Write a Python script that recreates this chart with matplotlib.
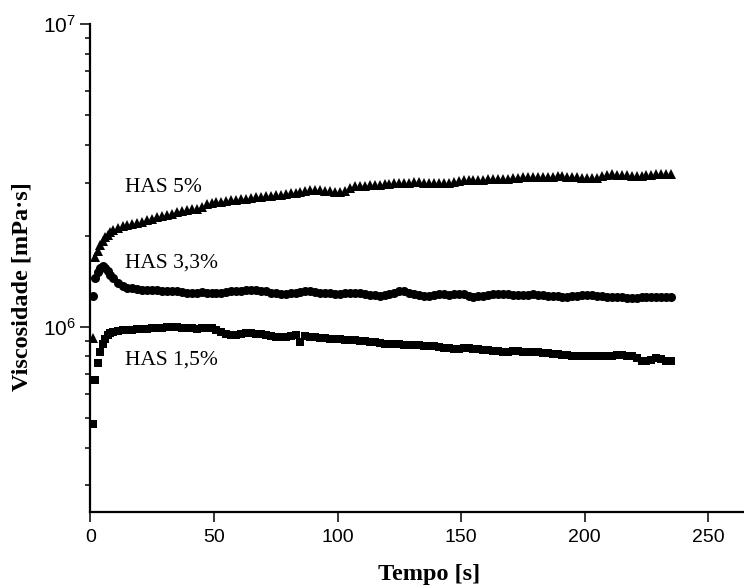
import numpy as np
import matplotlib
matplotlib.use("Agg")
import matplotlib.pyplot as plt
from matplotlib.ticker import LogLocator, FixedLocator, NullFormatter

plt.rcParams['font.family'] = 'sans-serif'
plt.rcParams['font.sans-serif'] = ['Liberation Sans', 'DejaVu Sans']
plt.rcParams['mathtext.fontset'] = 'custom'
plt.rcParams['mathtext.rm'] = 'Liberation Sans'
plt.rcParams['mathtext.it'] = 'Liberation Sans'

# sampling times [s]
tempo = [1, 2, 3, 4, 5, 6, 7, 8, 9] + list(range(11, 236, 2))

# viscosity in units of 1e6 mPa.s
has_5 = [0.92, 1.70, 1.78, 1.86, 1.93, 1.98, 2.02, 2.06, 2.09,
         2.12, 2.15, 2.17, 2.19, 2.21, 2.23, 2.25, 2.27, 2.30, 2.32,
         2.35, 2.37, 2.39, 2.41, 2.43, 2.45, 2.46, 2.49, 2.54, 2.56,
         2.58, 2.59, 2.60, 2.62, 2.63, 2.64, 2.65, 2.66, 2.68, 2.69,
         2.70, 2.71, 2.72, 2.73, 2.75, 2.77, 2.78, 2.80, 2.82, 2.84,
         2.84, 2.83, 2.82, 2.81, 2.80, 2.80, 2.81, 2.88, 2.92, 2.93,
         2.93, 2.94, 2.95, 2.95, 2.96, 2.97, 2.98, 2.99, 3.00, 3.00,
         3.01, 3.01, 3.00, 2.99, 2.98, 2.98, 2.98, 3.00, 3.02, 3.04,
         3.05, 3.05, 3.06, 3.06, 3.06, 3.07, 3.07, 3.08, 3.08, 3.09,
         3.10, 3.11, 3.12, 3.13, 3.13, 3.13, 3.14, 3.14, 3.14, 3.15,
         3.15, 3.14, 3.13, 3.12, 3.11, 3.10, 3.10, 3.11, 3.16, 3.18,
         3.19, 3.18, 3.17, 3.17, 3.16, 3.16, 3.16, 3.17, 3.18, 3.19,
         3.19, 3.20, 3.21]

has_33 = [1.27, 1.45, 1.52, 1.57, 1.59, 1.57, 1.53, 1.49, 1.45,
          1.40, 1.37, 1.35, 1.345, 1.34, 1.33, 1.325, 1.32, 1.32, 1.315,
          1.31, 1.31, 1.31, 1.305, 1.30, 1.30, 1.30, 1.305, 1.30, 1.30,
          1.30, 1.30, 1.305, 1.31, 1.31, 1.315, 1.32, 1.32, 1.32, 1.315,
          1.31, 1.30, 1.295, 1.29, 1.29, 1.295, 1.30, 1.305, 1.31, 1.31,
          1.305, 1.30, 1.30, 1.295, 1.29, 1.29, 1.295, 1.30, 1.30, 1.295,
          1.29, 1.28, 1.275, 1.27, 1.28, 1.29, 1.30, 1.31, 1.31, 1.30,
          1.29, 1.28, 1.27, 1.27, 1.28, 1.29, 1.29, 1.28, 1.285, 1.29,
          1.29, 1.27, 1.26, 1.265, 1.27, 1.28, 1.285, 1.29, 1.29, 1.285,
          1.28, 1.28, 1.275, 1.28, 1.285, 1.28, 1.275, 1.27, 1.27, 1.265,
          1.26, 1.26, 1.265, 1.27, 1.275, 1.28, 1.275, 1.27, 1.265, 1.26,
          1.26, 1.255, 1.255, 1.25, 1.245, 1.25, 1.255, 1.255, 1.26, 1.26,
          1.255, 1.255, 1.255]

has_15 = [0.48, 0.67, 0.76, 0.83, 0.88, 0.91, 0.94, 0.955, 0.965,
          0.970, 0.975, 0.978, 0.980, 0.982, 0.985, 0.988, 0.990, 0.992, 0.995,
          0.998, 1.000, 0.998, 0.995, 0.992, 0.990, 0.988, 0.992, 0.995, 0.990,
          0.980, 0.965, 0.950, 0.940, 0.942, 0.948, 0.955, 0.955, 0.950, 0.945,
          0.940, 0.935, 0.930, 0.925, 0.930, 0.935, 0.940, 0.890, 0.935, 0.930,
          0.925, 0.920, 0.918, 0.915, 0.912, 0.910, 0.908, 0.905, 0.903, 0.900,
          0.898, 0.895, 0.890, 0.885, 0.882, 0.880, 0.878, 0.876, 0.875, 0.874,
          0.872, 0.870, 0.868, 0.868, 0.864, 0.858, 0.853, 0.850, 0.848, 0.848,
          0.850, 0.850, 0.848, 0.845, 0.842, 0.838, 0.835, 0.832, 0.830, 0.830,
          0.832, 0.832, 0.830, 0.828, 0.826, 0.825, 0.822, 0.818, 0.815, 0.812,
          0.810, 0.808, 0.805, 0.803, 0.802, 0.800, 0.800, 0.800, 0.800, 0.802,
          0.805, 0.808, 0.808, 0.805, 0.800, 0.790, 0.775, 0.770, 0.778, 0.790,
          0.785, 0.775, 0.772]

labels = ['HAS 5%', 'HAS 3,3%', 'HAS 1,5%']

fig = plt.figure(figsize=(7.44, 5.87), dpi=100)
ax = fig.add_axes([0.1215, 0.1278, 0.877, 0.831])

t = np.array(tempo)
ax.plot(t, np.array(has_5) * 1e6, '^', color='black', ms=7, mew=0)
ax.plot(t, np.array(has_33) * 1e6, 'o', color='black', ms=6.5, mew=0)
ax.plot(t, np.array(has_15) * 1e6, 's', color='black', ms=6, mew=0)

ax.set_yscale('log')
ax.set_xlim(0, 264)
ax.set_ylim(2.45e5, 1e7)

ax.xaxis.set_major_locator(FixedLocator([0, 50, 100, 150, 200, 250]))
ax.yaxis.set_major_locator(LogLocator(base=10, numticks=10))
ax.yaxis.set_minor_locator(LogLocator(base=10, subs=np.arange(2, 10), numticks=10))
ax.yaxis.set_minor_formatter(NullFormatter())

for s in ['top', 'right']:
    ax.spines[s].set_visible(False)
for s in ['left', 'bottom']:
    ax.spines[s].set_linewidth(1.6)

ax.tick_params(which='major', direction='out', length=7, width=1.1, labelsize=14)
ax.tick_params(axis='y', which='major', labelsize=15)
ax.tick_params(which='minor', direction='out', length=3.6, width=1.1)
ax.tick_params(axis='x', pad=5)

serif = ['Liberation Serif', 'DejaVu Serif']
ax.set_xlabel('Tempo [s]', family=serif, fontweight='bold', fontsize=17.5)
ax.xaxis.set_label_coords(0.519, -0.107)
ax.set_ylabel('Viscosidade [mPa·s]', family=serif, fontweight='bold', fontsize=17.5)
ax.yaxis.set_label_coords(-0.088, 0.463)

ax.text(14, 2.8e6, labels[0], family=serif, fontsize=15.5, va='baseline')
ax.text(14, 1.567e6, labels[1], family=serif, fontsize=15.5, va='baseline')
ax.text(14, 7.51e5, labels[2], family=serif, fontsize=15.5, va='baseline')

fig.savefig('out.png', dpi=100)
